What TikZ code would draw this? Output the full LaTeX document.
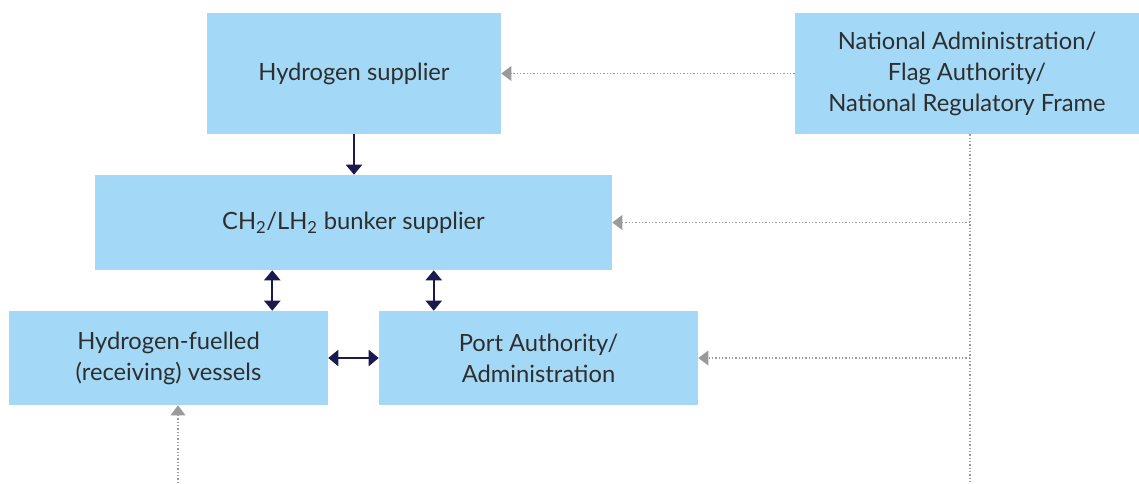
\documentclass[tikz,border=0pt]{standalone}
\usepackage{fontspec}
\setmainfont{Lato}
\usepackage{xcolor}
\usetikzlibrary{arrows.meta,positioning,calc}

\definecolor{boxblue}{HTML}{A3D9F7}
\definecolor{navy}{HTML}{1B1A4F}
\definecolor{dotgray}{HTML}{9A9A9A}
\definecolor{txtgray}{HTML}{2E2E2E}

\begin{document}
\begin{tikzpicture}[x=0.75pt, y=-0.75pt, font=\fontsize{17.8}{23.3}\selectfont,
    party/.style={rectangle, fill=boxblue, text=txtgray, align=center, inner sep=0pt},
    link/.style={draw=navy, line width=1.5pt, {Triangle[length=7.5pt,width=12pt]}-{Triangle[length=7.5pt,width=12pt]}},
    feed/.style={draw=navy, line width=1.5pt, -{Triangle[length=7.5pt,width=12pt]}},
    rule/.style={draw=dotgray, line width=1.1pt, dash pattern=on 1.1pt off 1.4pt, -{Triangle[length=7.5pt,width=11pt]}}]
    \useasboundingbox (0,0) rectangle (1139,483);
    % parties
    \node[party, minimum width=294*0.75pt, minimum height=121*0.75pt] (h2sup) at (354,73.5) {Hydrogen supplier};
    \node[party, minimum width=344*0.75pt, minimum height=121*0.75pt] (natadm) at (967,73.5)
        {National Administration/\\Flag Authority/\\National Regulatory Frame};
    \node[party, minimum width=517*0.75pt, minimum height=95*0.75pt] (bunker) at (353.5,222.5)
        {CH\textsubscript{2}/LH\textsubscript{2} bunker supplier};
    \node[party, minimum width=319*0.75pt, minimum height=94*0.75pt] (vessels) at (168.5,358)
        {Hydrogen-fuelled\\(receiving) vessels};
    \node[party, minimum width=319*0.75pt, minimum height=94*0.75pt] (port) at (538.5,358)
        {Port Authority/\\Administration};
    \coordinate (spine) at (970,483);
    \coordinate (vfeed) at (178,483);
    \coordinate (vlink) at ($(vessels.north east)+(-56,0)$);
    \coordinate (plink) at ($(port.north west)+(55,0)$);
    % physical / commercial links
    \draw[feed] (h2sup.south) -- (h2sup.south |- bunker.north);
    \draw[link] (vlink) -- (vlink |- bunker.south);
    \draw[link] (plink) -- (plink |- bunker.south);
    \draw[link] (vessels.east) -- (port.west);
    % regulatory links
    \draw[rule] (natadm.west) -- (h2sup.east);
    \draw[draw=dotgray, line width=1.1pt, dash pattern=on 1.1pt off 1.4pt] (spine |- natadm.south) -- (spine);
    \draw[rule] (spine |- bunker.east) -- (bunker.east);
    \draw[rule] (spine |- port.east) -- (port.east);
    \draw[rule] (vfeed) -- (vfeed |- vessels.south);
\end{tikzpicture}
\end{document}
